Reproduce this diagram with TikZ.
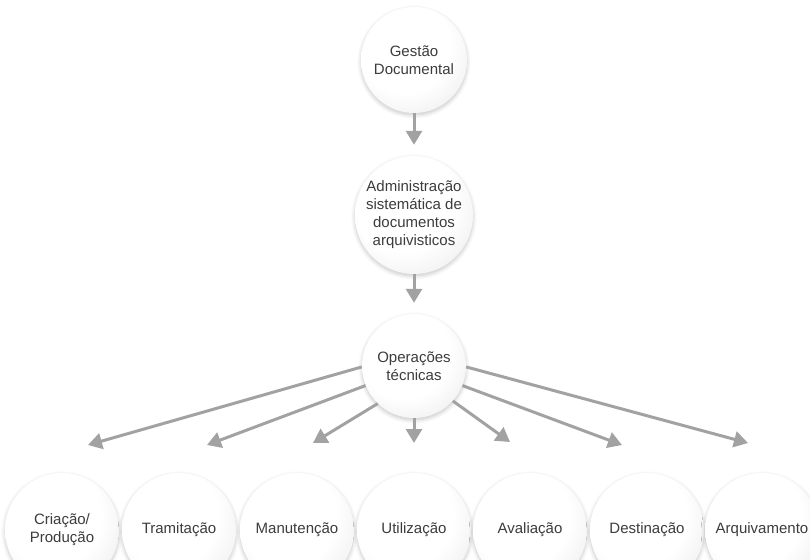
\documentclass[tikz,border=0pt]{standalone}
\usepackage{fontspec}
\setmainfont{Liberation Sans}
\usetikzlibrary{arrows.meta,shadows.blur}

\definecolor{inkgray}{HTML}{3C3C3C}
\definecolor{arrowgray}{HTML}{A2A2A2}
\definecolor{rimgray}{HTML}{D2D2D2}
\definecolor{midgray}{HTML}{EAEAEA}

% soft glassy ball: bright centre, light grey rim
\pgfdeclareradialshading{ball}{\pgfpoint{-6bp}{8bp}}{%
  color(0bp)=(white); color(22bp)=(white); color(40bp)=(midgray);
  color(50bp)=(rimgray); color(100bp)=(rimgray)}

\tikzset{
  bubble/.style={circle, shading=ball, minimum size=#1, inner sep=0pt,
    text=inkgray, align=center, font=\fontsize{15}{18}\selectfont,
    blur shadow={shadow xshift=0pt, shadow yshift=-2pt,
      shadow blur steps=8, shadow opacity=22, shadow blur radius=4pt}},
  bubble/.default=106pt,
  flow/.style={draw=arrowgray, line width=3pt,
    -{Triangle[length=14pt,width=16pt]}},
}

\begin{document}
\begin{tikzpicture}[x=1pt,y=-1pt]
  \useasboundingbox (0,0) rectangle (810,559);
  \clip (0,0) rectangle (810,559);

  % main chain
  \node[bubble=106pt] (gd)  at (414,60)  {Gestão\\Documental};
  \node[bubble=118pt] (adm) at (414,215) {Administração\\sistemática de\\documentos\\arquivisticos};
  \node[bubble=104pt] (op)  at (414,366) {Operações\\técnicas};

  % technical operations
  \node[bubble=114pt] (cri) at (62,530)  {Criação/\\Produção};
  \node[bubble=114pt] (tra) at (179,530) {Tramitação};
  \node[bubble=114pt] (man) at (297,530) {Manutenção};
  \node[bubble=114pt] (uti) at (414,530) {Utilização};
  \node[bubble=114pt] (ava) at (530,530) {Avaliação};
  \node[bubble=114pt] (des) at (647,530) {Destinação};
  \node[bubble=114pt] (arq) at (762,530) {Arquivamento};

  % arrow heads of the fan
  \coordinate (tcri) at (88,445);
  \coordinate (ttra) at (207,445);
  \coordinate (tman) at (313,443);
  \coordinate (tuti) at (414,443);
  \coordinate (tava) at (510,442);
  \coordinate (tdes) at (622,445);
  \coordinate (tarq) at (748,443);

  \draw[flow, shorten >=11pt] (gd) -- (adm);
  \draw[flow, shorten >=11pt] (adm) -- (op);

  \draw[flow] (op.181) -- (tcri);
  \draw[flow] (op.202) -- (ttra);
  \draw[flow] (op.226) -- (tman);
  \draw[flow] (op.south) -- (tuti);
  \draw[flow] (op.318) -- (tava);
  \draw[flow] (op.338) -- (tdes);
  \draw[flow] (op.359) -- (tarq);
\end{tikzpicture}
\end{document}
